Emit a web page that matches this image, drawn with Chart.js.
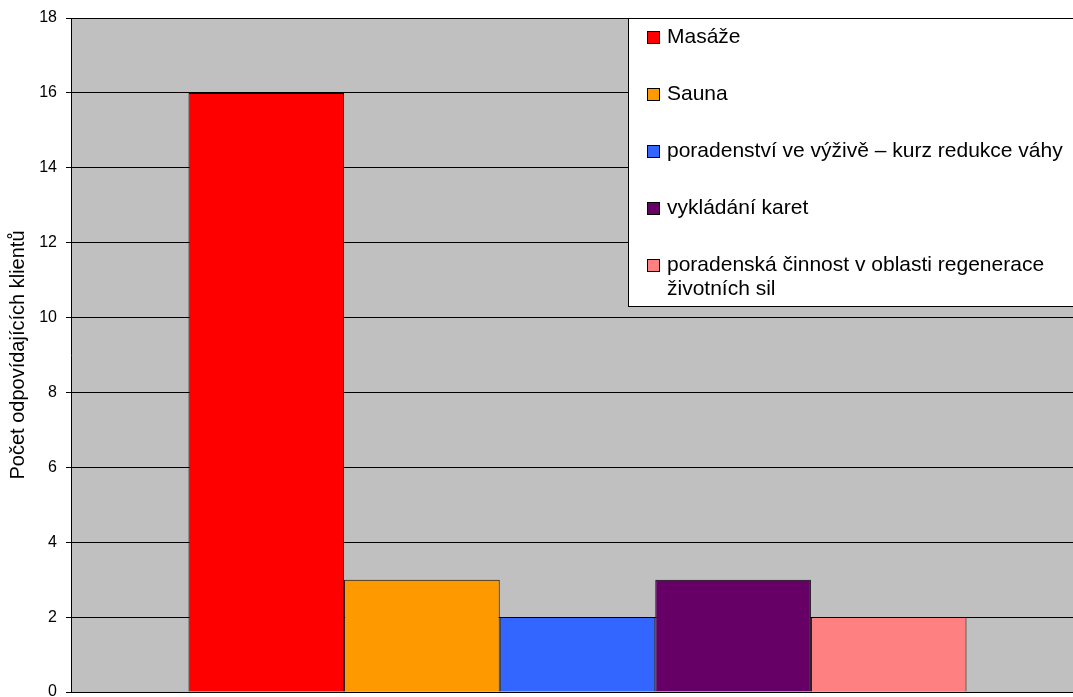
<!DOCTYPE html>
<html>
<head>
<meta charset="utf-8">
<script src="https://cdn.jsdelivr.net/npm/chart.js@4"></script>
<style>
    html, body { margin: 0; padding: 0; background: #fff; overflow: hidden; }
    #wrap { position: relative; width: 1084px; height: 697px; }
</style>
</head>
<body>
<div id="wrap"><canvas id="servicesChart"></canvas></div>
<script>
const services = [
    "Masáže",
    "Sauna",
    "poradenství ve výživě – kurz redukce váhy",
    "vykládání karet",
    "poradenská činnost v oblasti regenerace životních sil"
];
const clientCounts = [16, 3, 2, 3, 2];
const barColors = ["#FF0000", "#FF9900", "#3366FF", "#660066", "#FF8080"];
const yTicks = [0, 2, 4, 6, 8, 10, 12, 14, 16, 18];
const yTitle = "Počet odpovídajících klientů";

const fontFamily = '"Liberation Sans", Arial, sans-serif';

// gray fill behind the plot
const plotBackground = {
    id: "plotBackground",
    beforeDraw(chart) {
        let { ctx, chartArea: a } = chart;
        ctx.save();
        ctx.fillStyle = "#C0C0C0";
        ctx.fillRect(a.left, a.top, a.right - a.left, a.bottom - a.top);
        ctx.restore();
    }
};

function wrapText(ctx, text, maxWidth) {
    let words = text.split(" ");
    let lines = [];
    let line = "";
    words.forEach(w => {
        let test = line ? line + " " + w : w;
        if (line && ctx.measureText(test).width > maxWidth) {
            lines.push(line);
            line = w;
        } else {
            line = test;
        }
    });
    if (line) lines.push(line);
    return lines;
}

// boxed legend sitting in the upper right of the plot
const boxLegend = {
    id: "boxLegend",
    afterDraw(chart) {
        let { ctx, chartArea: a } = chart;
        let x0 = 628, y0 = a.top, h = 288;
        ctx.save();
        ctx.fillStyle = "#fff";
        ctx.fillRect(x0, y0, a.right - x0, h);
        ctx.strokeStyle = "#000";
        ctx.lineWidth = 1;
        ctx.strokeRect(x0 + 0.5, y0 + 0.5, a.right - x0, h);

        ctx.font = "21px " + fontFamily;
        ctx.textBaseline = "middle";
        ctx.textAlign = "left";
        chart.data.datasets.forEach((ds, i) => {
            let cy = y0 + 19 + i * 57;
            ctx.fillStyle = ds.backgroundColor;
            ctx.fillRect(647, cy - 6, 13, 13);
            ctx.strokeStyle = "#000";
            ctx.strokeRect(647.5, cy - 5.5, 12, 12);
            ctx.fillStyle = "#000";
            wrapText(ctx, ds.label, 412).forEach((ln, j) => {
                ctx.fillText(ln, 667, cy + j * 24);
            });
        });
        ctx.restore();
    }
};

let ctx = document.getElementById("servicesChart").getContext("2d");

let servicesChart = new Chart(ctx, {
    type: "bar",
    data: {
        labels: [""],
        datasets: services.map((name, i) => ({
            label: name,
            data: [clientCounts[i]],
            backgroundColor: barColors[i],
            borderColor: "#000",
            borderWidth: 1,
            categoryPercentage: 0.768,
            barPercentage: 1
        }))
    },
    options: {
        responsive: true,
        maintainAspectRatio: false,
        animation: false,
        layout: { padding: { top: 18, right: 0, bottom: 5, left: 0 } },
        plugins: {
            legend: { display: false },
            tooltip: { enabled: false }
        },
        scales: {
            x: {
                display: false,
                grid: { display: false }
            },
            y: {
                min: yTicks[0],
                max: yTicks[yTicks.length - 1],
                ticks: {
                    stepSize: yTicks[1] - yTicks[0],
                    color: "#000",
                    font: { family: fontFamily, size: 16 },
                    padding: 9
                },
                grid: { color: "#000", lineWidth: 1, tickLength: 5 },
                border: { color: "#000", width: 1 },
                title: {
                    display: true,
                    text: yTitle,
                    color: "#000",
                    font: { family: fontFamily, size: 20 },
                    padding: { top: 6, bottom: 0 }
                },
                afterFit(scale) {
                    scale.width = 71;
                    scale.paddingTop = 0;
                    scale.paddingBottom = 0;
                }
            }
        }
    },
    plugins: [plotBackground, boxLegend]
});
</script>
</body>
</html>
